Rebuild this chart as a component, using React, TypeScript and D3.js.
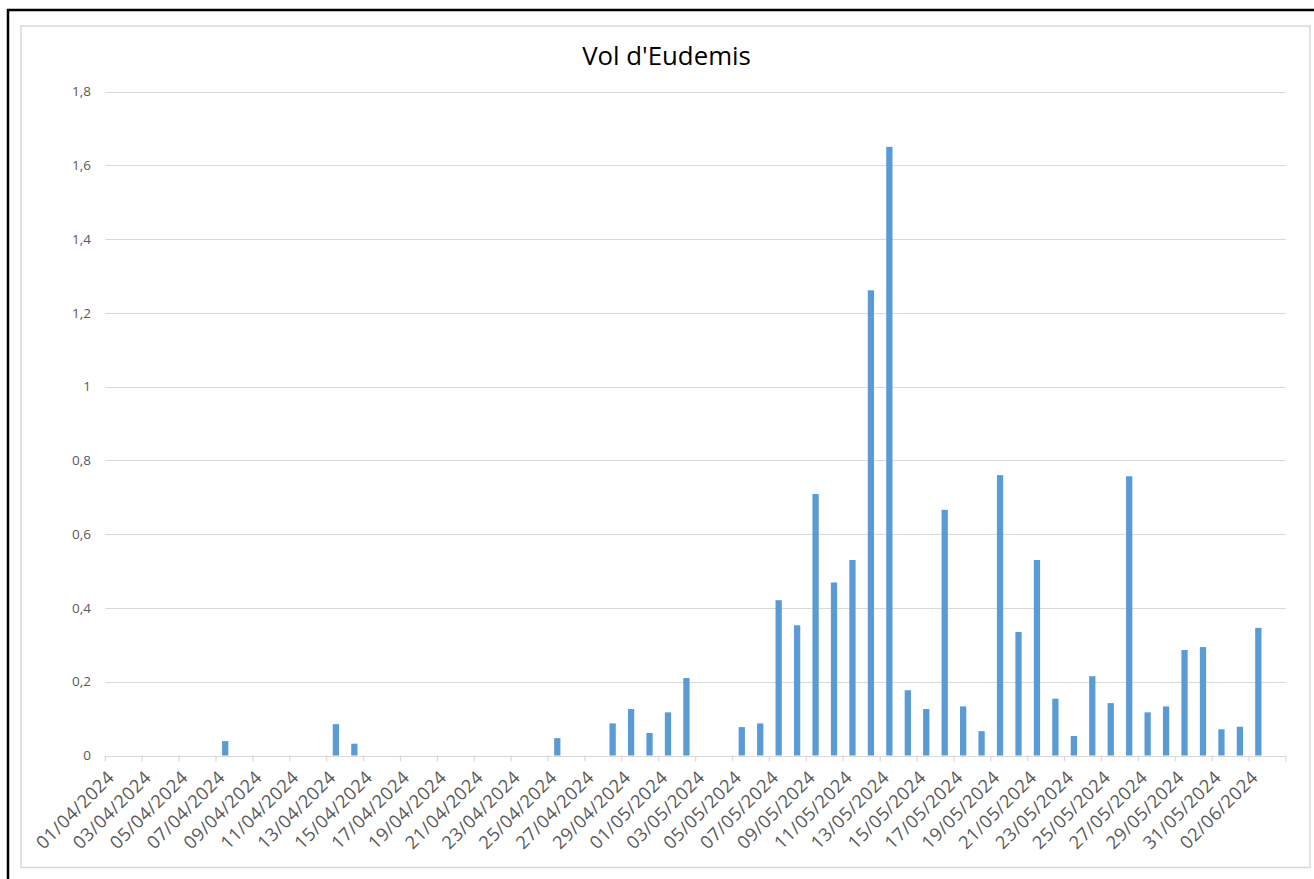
import React from "react";
import * as d3 from "d3";

const title = "Vol d'Eudemis";
const startDay = new Date(2024, 3, 1);
const endDay = new Date(2024, 5, 4); // exclusive -> 01/04 .. 03/06
const barDates = [
  "07/04/2024", "13/04/2024", "14/04/2024", "25/04/2024", "28/04/2024", "29/04/2024",
  "30/04/2024", "01/05/2024", "02/05/2024", "05/05/2024", "06/05/2024", "07/05/2024",
  "08/05/2024", "09/05/2024", "10/05/2024", "11/05/2024", "12/05/2024", "13/05/2024",
  "14/05/2024", "15/05/2024", "16/05/2024", "17/05/2024", "18/05/2024", "19/05/2024",
  "20/05/2024", "21/05/2024", "22/05/2024", "23/05/2024", "24/05/2024", "25/05/2024",
  "26/05/2024", "27/05/2024", "28/05/2024", "29/05/2024", "30/05/2024", "31/05/2024",
  "01/06/2024", "02/06/2024",
];
const barValues = [
  0.039, 0.085, 0.032, 0.047, 0.087, 0.126,
  0.061, 0.117, 0.21, 0.077, 0.087, 0.421,
  0.353, 0.709, 0.469, 0.53, 1.261, 1.65,
  0.177, 0.126, 0.666, 0.133, 0.066, 0.76,
  0.335, 0.53, 0.154, 0.053, 0.215, 0.142,
  0.757, 0.117, 0.133, 0.286, 0.294, 0.071,
  0.078, 0.346,
];
const yTicks = [0, 0.2, 0.4, 0.6, 0.8, 1, 1.2, 1.4, 1.6, 1.8];

const fmtDay = d3.timeFormat("%d/%m/%Y");
const categories = d3.timeDay.range(startDay, endDay).map(fmtDay);

const W = 1314;
const H = 879;
const left = 105.3;
const right = 1286;
const top = 91.5;
const bottom = 755.5;

export default function App() {
  const x = d3
    .scaleBand<string>()
    .domain(categories)
    .range([left, right])
    .paddingInner(0.66)
    .paddingOuter(0.33);
  const y = d3.scaleLinear().domain([0, 1.8]).range([bottom, top]);
  const step = x.step();
  const font = "'Open Sans', 'Noto Sans', sans-serif";
  const fmtY = (v: number) => String(+v.toFixed(1)).replace(".", ",");
  const tickIdx = d3.range(0, categories.length + 1, 2);

  return (
    <svg
      width={W}
      height={H}
      style={{ position: "absolute", left: 0, top: 0, background: "#fff" }}
    >
      <rect x={0} y={0} width={W} height={H} fill="#fff" />
      <rect x={21} y={26} width={1289} height={841.5} fill="#fff" stroke="#d9d9d9" strokeWidth={1.5} />
      <line x1={8} x2={8} y1={9} y2={H} stroke="#000" strokeWidth={2.5} />
      <line x1={7} x2={W} y1={10} y2={10} stroke="#000" strokeWidth={2.5} />

      <text x={666.5} y={65} textAnchor="middle" fontFamily={font} fontSize={25.8} fill="#000">
        {title}
      </text>

      {yTicks.map((t) => (
        <g key={t}>
          <line
            x1={left}
            x2={right}
            y1={Math.round(y(t)) + 0.5}
            y2={Math.round(y(t)) + 0.5}
            stroke="#d9d9d9"
            strokeWidth={1.2}
          />
          <text
            x={91}
            y={y(t)}
            dy="0.35em"
            textAnchor="end"
            fontFamily={font}
            fontSize={13.5}
            fill="#595959"
          >
            {fmtY(t)}
          </text>
        </g>
      ))}

      {tickIdx.map((i) => (
        <line
          key={i}
          x1={left + i * step}
          x2={left + i * step}
          y1={bottom}
          y2={bottom + 6}
          stroke="#d9d9d9"
          strokeWidth={1.2}
        />
      ))}

      {barDates.map((d, i) => (
        <rect
          key={d}
          x={x(d)}
          y={y(barValues[i])}
          width={x.bandwidth()}
          height={bottom - y(barValues[i])}
          fill="#5b9bd5"
        />
      ))}

      {categories
        .filter((_, i) => i % 2 === 0)
        .map((c) => {
          const cx = (x(c) as number) + x.bandwidth() / 2 + 1;
          const cy = bottom + 23;
          return (
            <text
              key={c}
              transform={`translate(${cx},${cy}) rotate(-45)`}
              textAnchor="end"
              fontFamily={font}
              fontSize={18.2}
              letterSpacing={0.5}
              fill="#595959"
            >
              {c}
            </text>
          );
        })}
    </svg>
  );
}
